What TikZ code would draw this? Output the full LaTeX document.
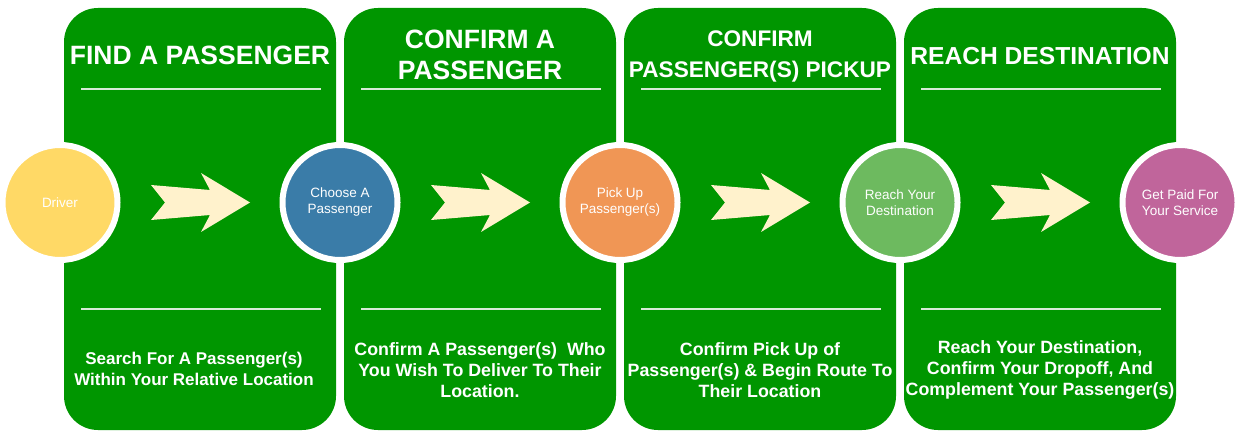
\documentclass[tikz,border=0pt]{standalone}
\usepackage{fontspec}
\setmainfont{Liberation Sans}
\usetikzlibrary{calc, positioning}

\definecolor{stagegreen}{HTML}{009600}
\definecolor{rulegray}{HTML}{D8EBD8}
\definecolor{arrowcream}{HTML}{FFF2CC}
\definecolor{driveryellow}{HTML}{FFD966}
\definecolor{chooseblue}{HTML}{3A7CA8}
\definecolor{pickorange}{HTML}{F09655}
\definecolor{reachgreen}{HTML}{6DBA5F}
\definecolor{paidpink}{HTML}{C0659B}

\begin{document}
\begin{tikzpicture}[x=1pt, y=-1pt,
    stage/.style={rectangle, fill=stagegreen, rounded corners=34pt, minimum width=272pt, minimum height=422pt, inner sep=0pt},
    title/.style={text=white, font=\fontsize{26.5}{31}\selectfont\bfseries, align=center},
    rule/.style={draw=rulegray, line width=2pt},
    desc/.style={text=white, font=\fontsize{17.8}{21}\selectfont\bfseries, align=center},
    milestone/.style={circle, draw=white, line width=6pt, minimum size=115pt, inner sep=0pt, text=white, font=\fontsize{13.5}{16}\selectfont, align=center},
    bigarrow/.pic={\fill[arrowcream] (-49,-17.5) -- (-35,0) -- (-49,17.5) -- (10,12.5) -- (1,29.5) -- (50,0) -- (1,-29.5) -- (10,-12.5) -- cycle;}
]
    \useasboundingbox (0,0) rectangle (1241,438);

    \node[stage] (s1) at (200,219) {};
    \node[stage] (s2) at (480,219) {};
    \node[stage] (s3) at (760,219) {};
    \node[stage] (s4) at (1040,219) {};

    \node[title] (t1) at (200,55) {FIND A PASSENGER};
    \node[title] (t2) at (480,55) {CONFIRM A\\PASSENGER};
    \node[title, font=\fontsize{22.6}{31}\selectfont\bfseries] (t3) at (760,56) {CONFIRM\\PASSENGER(S) PICKUP};
    \node[title, font=\fontsize{24.6}{31}\selectfont\bfseries] (t4) at (1040,56) {REACH DESTINATION};

    \draw[rule] (81,89) -- (321,89);
    \draw[rule] (361,89) -- (601,89);
    \draw[rule] (641,89) -- (881,89);
    \draw[rule] (921,89) -- (1161,89);
    \draw[rule] (81,309) -- (321,309);
    \draw[rule] (361,309) -- (601,309);
    \draw[rule] (641,309) -- (881,309);
    \draw[rule] (921,309) -- (1161,309);

    \node[desc, font=\fontsize{17}{20.5}\selectfont\bfseries] (d1) at (194,369) {Search For A Passenger(s)\\Within Your Relative Location};
    \node[desc] (d2) at (480,370) {Confirm A Passenger(s) \ Who\\You Wish To Deliver To Their\\Location.};
    \node[desc] (d3) at (760,370) {Confirm Pick Up of\\Passenger(s) \& Begin Route To\\Their Location};
    \node[desc] (d4) at (1040,370) {Reach Your Destination,\\Confirm Your Dropoff, And\\Complement Your Passenger(s)};

    \node[milestone, fill=driveryellow] (c1) at (60,202.5) {Driver};
    \node[milestone, fill=chooseblue] (c2) at (340,202.5) {Choose A\\Passenger};
    \node[milestone, fill=pickorange] (c3) at (620,202.5) {Pick Up\\Passenger(s)};
    \node[milestone, fill=reachgreen] (c4) at (900,202.5) {Reach Your\\Destination};
    \node[milestone, fill=paidpink] (c5) at (1180,202.5) {Get Paid For\\Your Service};

    \pic at ($(c1)!0.5!(c2)$) {bigarrow};
    \pic at ($(c2)!0.5!(c3)$) {bigarrow};
    \pic at ($(c3)!0.5!(c4)$) {bigarrow};
    \pic at ($(c4)!0.5!(c5)$) {bigarrow};
\end{tikzpicture}
\end{document}
